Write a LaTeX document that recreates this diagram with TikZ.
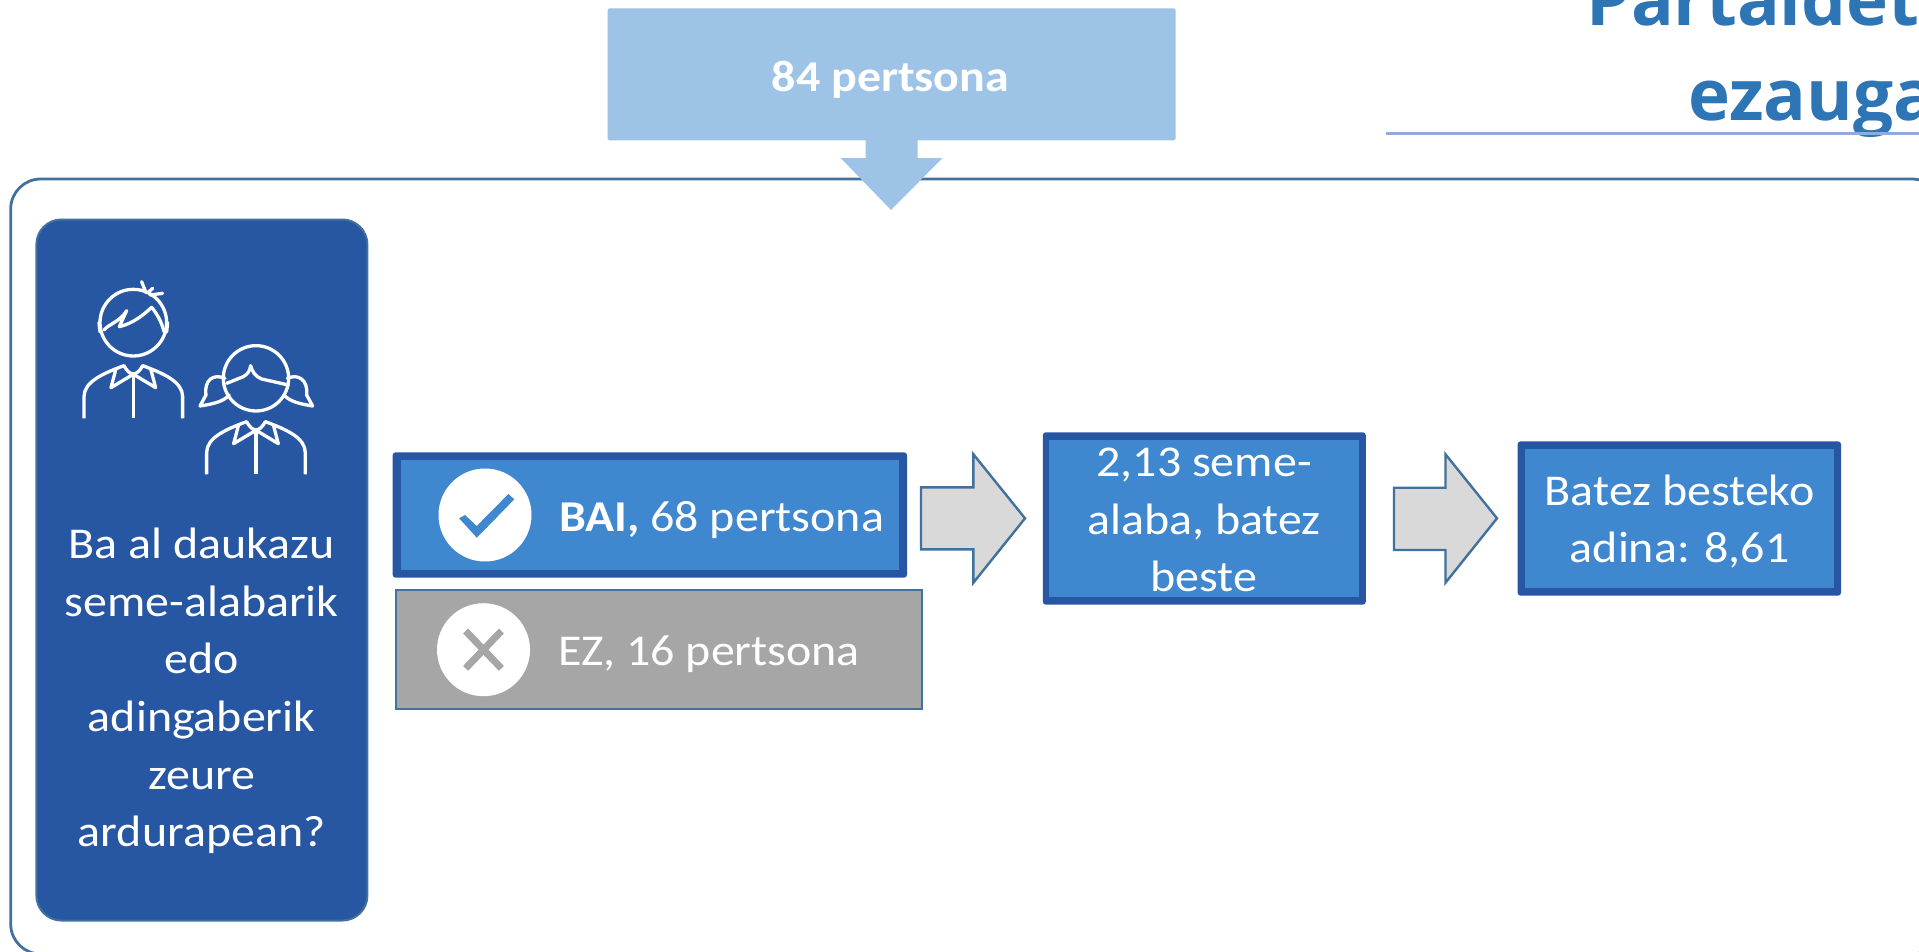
\documentclass[tikz,border=0pt]{standalone}
\usepackage{fontspec}
\setmainfont[FakeStretch=1.09]{Carlito}
\newfontfamily\titlefont{Open Sans}
\definecolor{edgeblue}{HTML}{41719C}
\definecolor{panelblue}{HTML}{2757A3}
\definecolor{midblue}{HTML}{3F87CE}
\definecolor{lightblue}{HTML}{9DC3E6}
\definecolor{arrowgrey}{HTML}{D9D9D9}
\definecolor{boxgrey}{HTML}{A6A6A6}
\definecolor{titleblue}{HTML}{2E75B6}
\definecolor{ruleblue}{HTML}{8FAADC}
\tikzset{
  x=1pt,y=-1pt,
  plainbox/.style={inner sep=0pt,outer sep=0pt,rectangle},
  darkbox/.style={plainbox,fill=panelblue,rounded corners=3pt},
  innerbox/.style={plainbox,fill=midblue},
  lbl/.style={inner sep=0pt,outer sep=0pt,text=white,font=\fontsize{44}{57.6}\selectfont,align=center},
  blockarrow/.style={draw=edgeblue,line width=2.4pt,fill=arrowgrey,line join=miter},
  titletext/.style={inner sep=0pt,outer sep=0pt,anchor=base west,text=titleblue,font=\titlefont\bfseries\fontsize{71}{80}\selectfont},
  disc/.style={circle,fill=white,inner sep=0pt,outer sep=0pt,minimum size=93pt},
  icon/.style={draw=white,line width=3.3pt,line join=round,line cap=round}
}
\begin{document}
\begin{tikzpicture}
\useasboundingbox (0,0) rectangle (1919,951);
\clip (0,0) rectangle (1919,951);
% title
\node[titletext] (title1) at (1586.5,25) {Partaidetz};
\node[titletext] (title2) at (1688,120) {ezauga};
\coordinate (ruleL) at (1386,133.3);
\coordinate (ruleR) at (1925,133.3);
\draw[ruleblue,line width=2.6pt] (ruleL) -- (ruleR);
% frame
\draw[edgeblue,line width=2.8pt,rounded corners=30pt] (10.7,179) rectangle (1942,954);
% top box and arrow
\fill[lightblue] (865.5,135) -- (917.6,135) -- (917.6,158) -- (942.5,158) -- (891,210) -- (840.7,158) -- (865.5,158) -- cycle;
\node[plainbox,fill=lightblue,rounded corners=1.5pt,minimum width=568pt,minimum height=132pt] (top) at (891.5,74.3) {};
\node[lbl,font=\bfseries\fontsize{44}{57.6}\selectfont,anchor=base] (toptxt) at (890.5,91.5) {84 pertsona};
% panel
\node[plainbox,fill=panelblue,draw=edgeblue,line width=2pt,rounded corners=25pt,minimum width=331pt,minimum height=701pt] (panel) at (201.9,570) {};
\node[lbl] (paneltxt) at (201.7,691) {Ba al daukazu\\seme-alabarik\\edo\\adingaberik\\zeure\\ardurapean?};
% boy
\begin{scope}[x=0.3333pt,y=-0.3333pt,yshift=-200pt]
\draw[icon] (400,368) circle (100);
\draw[icon] (300,396) -- (297,368);
\draw[icon] (500,396) -- (503,368);
\draw[icon] (312,390) .. controls (330,370) and (360,365) .. (380,332) -- (358,380) .. controls (400,370) and (430,345) .. (455,322) .. controls (470,340) and (485,365) .. (492,395);
\draw[icon] (425,245) -- (438,278);
\draw[icon] (444,278) -- (458,265);
\draw[icon] (450,285) -- (488,280);
\draw[icon,line cap=butt] (252,655) -- (252,590) .. controls (252,545) and (310,520) .. (372,497) .. controls (380,512) and (390,522) .. (400,522) .. controls (410,522) and (420,512) .. (428,497) .. controls (490,520) and (548,545) .. (548,590) -- (548,655);
\draw[icon] (347,510) -- (333,563) -- (393,527);
\draw[icon] (453,510) -- (467,563) -- (407,527);
\draw[icon,line cap=butt] (400,524) -- (400,655);
% girl
\draw[icon] (768,535) circle (98);
\draw[icon] (680,550) -- (730,530) .. controls (745,522) and (750,510) .. (752,497) .. controls (756,512) and (765,530) .. (785,537) -- (865,555);
\draw[icon] (675,535) .. controls (640,520) and (612,540) .. (618,585) -- (600,618) .. controls (640,612) and (670,605) .. (688,585);
\draw[icon] (862,535) .. controls (895,520) and (925,540) .. (920,585) -- (938,618) .. controls (900,612) and (870,605) .. (852,585);
\draw[icon,line cap=butt] (620,823) -- (620,758) .. controls (620,713) and (678,688) .. (740,665) .. controls (748,680) and (758,690) .. (768,690) .. controls (778,690) and (788,680) .. (796,665) .. controls (858,688) and (916,713) .. (916,758) -- (916,823);
\draw[icon] (715,678) -- (701,731) -- (761,695);
\draw[icon] (821,678) -- (835,731) -- (775,695);
\draw[icon,line cap=butt] (768,692) -- (768,823);
\end{scope}
% BAI box
\node[darkbox,minimum width=514.4pt,minimum height=125.4pt] (baiouter) at (649.8,515) {};
\node[innerbox,minimum width=498.4pt,minimum height=110pt] (bai) at (649.8,515) {};
\node[disc] (baidisc) at (485,515) {};
\fill[midblue] (459.1,518.3) -- (465,515) -- (476.8,526) -- (508.4,494) -- (514.3,499.3) -- (476.8,537.7) -- cycle;
\node[lbl,anchor=base west] (baitxt) at (559,531) {\textbf{BAI,} 68 pertsona};
% EZ box
\node[plainbox,fill=boxgrey,draw=edgeblue,line width=2pt,minimum width=526.5pt,minimum height=118.7pt] (ez) at (659.2,649.3) {};
\node[disc] (ezdisc) at (483.5,649.7) {};
\draw[boxgrey,line width=7pt] (465.6,631) -- (501.4,668.4);
\draw[boxgrey,line width=7pt] (501.4,631) -- (465.6,668.4);
\node[lbl,anchor=base west] (eztxt) at (558,665) {EZ, 16 pertsona};
% arrows
\draw[blockarrow] (921,487.3) -- (973.4,487.3) -- (973.4,454.3) -- (1025,518.3) -- (973.4,582.7) -- (973.4,549.3) -- (921,549.3) -- cycle;
\draw[blockarrow] (1394,487.7) -- (1445.5,487.7) -- (1445.5,454.3) -- (1497,518.3) -- (1445.5,582.7) -- (1445.5,550) -- (1394,550) -- cycle;
% box 2
\node[darkbox,minimum width=323pt,minimum height=172.4pt] (twoouter) at (1204.3,518.5) {};
\node[innerbox,minimum width=310pt,minimum height=156.7pt] (two) at (1204,518.3) {};
\node[lbl] (twotxt) at (1204,520) {2,13 seme-\\alaba, batez\\beste};
% box 3
\node[darkbox,minimum width=323.4pt,minimum height=154.4pt] (threeouter) at (1679.3,518.5) {};
\node[innerbox,minimum width=309pt,minimum height=138.7pt] (three) at (1679.5,518.3) {};
\node[lbl] (threetxt) at (1679.6,521.5) {Batez besteko\\adina: 8,61};
\end{tikzpicture}
\end{document}
